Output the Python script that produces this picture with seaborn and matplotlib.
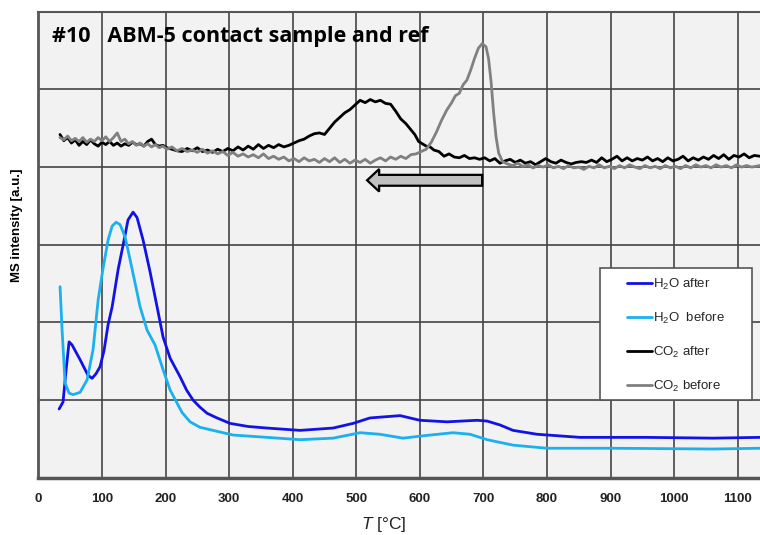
import matplotlib
matplotlib.use("Agg")
import matplotlib.pyplot as plt
import seaborn as sns
import pandas as pd
from matplotlib.patches import Rectangle

# values (T in degC, intensity in a.u.)
h2o_after_t = [32.6, 38.8, 43.6, 48.3, 53, 65.6, 78, 84.4, 90.7, 97, 103.3, 109.6, 116, 125.4,
               134.8, 141, 148.9, 155.2, 164.7, 175.7, 186.7, 196.2, 207.2, 222.9, 233, 243.3,
               254, 265.4, 281, 301.5, 330, 359.7, 411.6, 463.5, 495, 521.5, 537, 569, 600,
               642.8, 690, 705.7, 726, 746.6, 784.4, 852, 957.3, 1061, 1135]
h2o_after_y = [0.885, 0.976, 1.39, 1.75, 1.71, 1.52, 1.32, 1.28, 1.34, 1.43, 1.64, 1.97, 2.2, 2.68,
               3.06, 3.32, 3.42, 3.35, 3.06, 2.65, 2.2, 1.81, 1.54, 1.30, 1.13, 1.00,
               0.91, 0.83, 0.77, 0.70, 0.66, 0.64, 0.61, 0.64, 0.70, 0.77, 0.78, 0.80, 0.74,
               0.72, 0.74, 0.73, 0.68, 0.61, 0.56, 0.52, 0.52, 0.51, 0.52]

h2o_before_t = [34.1, 37.3, 42, 48.3, 54.6, 65.6, 76.6, 86, 94, 101.8, 109.6, 116, 122.2, 128.5,
                136.4, 144.2, 152, 160, 171, 183.5, 196.2, 207.2, 218.2, 226, 238.6, 254, 274.8,
                306.3, 359.7, 411.6, 463.5, 506, 537, 573.6, 605, 652, 679, 705.7, 746.6, 800,
                903.9, 1061, 1135]
h2o_before_y = [2.46, 1.90, 1.22, 1.09, 1.07, 1.10, 1.26, 1.65, 2.29, 2.70, 3.06, 3.24, 3.29, 3.26,
                3.10, 2.81, 2.51, 2.20, 1.90, 1.71, 1.39, 1.13, 0.96, 0.84, 0.72, 0.65, 0.61,
                0.55, 0.52, 0.49, 0.51, 0.58, 0.56, 0.51, 0.54, 0.58, 0.56, 0.49, 0.42, 0.38,
                0.38, 0.37, 0.38]

co2_after_t = [34, 40, 46, 52, 58, 64, 70, 76, 82, 88, 94, 100, 106, 112, 118, 124, 130, 136, 142,
               148, 154, 160, 166, 172, 178, 184, 190, 196, 202, 210, 218, 226, 234, 242, 250,
               258, 266, 274, 282, 290, 298, 306, 314, 322, 330, 338, 346, 354, 362, 370, 378,
               386, 394, 402, 410, 418, 426, 434, 442, 450, 458, 466, 474, 482, 490, 498, 506,
               514, 522, 530, 538, 546, 554, 562, 570, 578, 586, 592, 598, 604, 610, 616, 622,
               630, 638, 646, 654, 662, 670, 678, 686, 694, 702, 710, 718, 726, 734, 742, 750,
               758, 766, 774, 782, 790, 798, 806, 814, 822, 830, 838, 846, 854, 862, 870, 878,
               886, 894, 902, 910, 918, 926, 934, 942, 950, 958, 966, 974, 982, 990, 998, 1006,
               1014, 1022, 1030, 1038, 1046, 1054, 1062, 1070, 1078, 1086, 1094, 1102, 1110,
               1118, 1126, 1135]
co2_after_y = [4.42, 4.34, 4.38, 4.31, 4.35, 4.28, 4.33, 4.29, 4.35, 4.30, 4.27, 4.32, 4.29, 4.33,
               4.28, 4.31, 4.27, 4.30, 4.28, 4.32, 4.29, 4.30, 4.27, 4.33, 4.36, 4.29, 4.27, 4.28,
               4.25, 4.23, 4.21, 4.20, 4.24, 4.21, 4.25, 4.20, 4.22, 4.19, 4.23, 4.20, 4.24, 4.21,
               4.26, 4.22, 4.27, 4.23, 4.29, 4.24, 4.28, 4.25, 4.29, 4.26, 4.28, 4.31, 4.34, 4.36,
               4.40, 4.43, 4.44, 4.42, 4.50, 4.58, 4.64, 4.70, 4.74, 4.80, 4.86, 4.83, 4.87, 4.84,
               4.86, 4.82, 4.81, 4.72, 4.62, 4.56, 4.48, 4.42, 4.33, 4.30, 4.27, 4.26, 4.22, 4.20,
               4.14, 4.17, 4.13, 4.12, 4.15, 4.11, 4.12, 4.10, 4.12, 4.08, 4.11, 4.05, 4.08, 4.10,
               4.06, 4.09, 4.05, 4.07, 4.03, 4.07, 4.11, 4.07, 4.05, 4.09, 4.06, 4.04, 4.06, 4.07,
               4.06, 4.09, 4.06, 4.12, 4.07, 4.10, 4.14, 4.08, 4.12, 4.08, 4.11, 4.09, 4.13, 4.08,
               4.11, 4.07, 4.12, 4.08, 4.10, 4.14, 4.08, 4.12, 4.09, 4.13, 4.10, 4.15, 4.11, 4.16,
               4.10, 4.15, 4.13, 4.17, 4.12, 4.15, 4.14]

co2_before_t = [34, 40, 46, 52, 58, 64, 70, 76, 82, 88, 94, 100, 106, 112, 118, 124, 130, 136, 142,
                148, 154, 160, 166, 172, 178, 184, 190, 196, 202, 210, 218, 226, 234, 242, 250,
                258, 266, 274, 282, 290, 298, 306, 314, 322, 330, 338, 346, 354, 362, 370, 378,
                386, 394, 402, 410, 418, 426, 434, 442, 450, 458, 466, 474, 482, 490, 498, 506,
                514, 522, 530, 538, 546, 554, 562, 570, 578, 586, 594, 602, 610, 618, 626, 634,
                642, 650, 656, 662, 668, 674, 680, 686, 692, 698, 704, 708, 712, 716, 720, 724,
                730, 738, 746, 754, 762, 770, 778, 786, 794, 802, 810, 818, 826, 834, 842, 850,
                858, 866, 874, 882, 890, 898, 906, 914, 922, 930, 938, 946, 954, 962, 970, 978,
                986, 994, 1002, 1010, 1018, 1026, 1034, 1042, 1050, 1058, 1066, 1074, 1082, 1090,
                1098, 1106, 1114, 1122, 1135]
co2_before_y = [4.38, 4.35, 4.40, 4.34, 4.37, 4.33, 4.38, 4.32, 4.36, 4.33, 4.38, 4.34, 4.39, 4.33,
                4.38, 4.44, 4.33, 4.36, 4.30, 4.33, 4.28, 4.31, 4.27, 4.30, 4.26, 4.29, 4.25, 4.27,
                4.23, 4.26, 4.21, 4.24, 4.20, 4.22, 4.19, 4.23, 4.18, 4.21, 4.17, 4.20, 4.15, 4.19,
                4.14, 4.17, 4.13, 4.16, 4.12, 4.17, 4.11, 4.14, 4.10, 4.13, 4.08, 4.11, 4.07, 4.12,
                4.08, 4.10, 4.06, 4.11, 4.07, 4.12, 4.06, 4.10, 4.05, 4.09, 4.06, 4.10, 4.05, 4.09,
                4.12, 4.08, 4.13, 4.10, 4.14, 4.11, 4.16, 4.17, 4.20, 4.23, 4.32, 4.45, 4.60, 4.73,
                4.83, 4.92, 4.95, 5.06, 5.12, 5.25, 5.40, 5.53, 5.59, 5.55, 5.40, 5.10, 4.70, 4.38,
                4.18, 4.07, 4.04, 4.02, 4.05, 4.01, 4.03, 3.99, 4.02, 4.00, 4.03, 3.99, 4.01, 3.98,
                4.02, 3.99, 4.00, 3.97, 4.01, 3.99, 4.03, 3.99, 4.01, 3.98, 4.02, 3.99, 4.03, 4.00,
                3.98, 4.02, 3.99, 4.01, 3.98, 4.02, 3.99, 4.01, 3.98, 4.02, 3.99, 4.03, 4.00, 4.02,
                3.99, 4.03, 4.00, 4.02, 3.99, 4.03, 4.00, 4.02, 4.00, 4.02]

series = ["H$_2$O after", "H$_2$O  before", "CO$_2$ after", "CO$_2$ before"]
colors = ["#1212e6", "#1bb0ee", "#000000", "#808080"]
x_ticks = list(range(0, 1101, 100))

sns.set_style("white")
plt.rcParams["font.family"] = ["Liberation Sans", "DejaVu Sans"]
plt.rcParams["mathtext.fontset"] = "custom"
plt.rcParams["mathtext.rm"] = "Liberation Sans"
plt.rcParams["mathtext.it"] = "Liberation Sans:italic"

fig = plt.figure(figsize=(7.6, 5.35), dpi=100)
ax = fig.add_axes([0.0505, 0.107, 0.9495, 0.871])
ax.set_facecolor("#f2f2f2")

data = [(h2o_after_t, h2o_after_y), (h2o_before_t, h2o_before_y),
        (co2_after_t, co2_after_y), (co2_before_t, co2_before_y)]
for (t, y), name, c in zip(data, series, colors):
    df = pd.DataFrame({"T": t, "I": y})
    sns.lineplot(data=df, x="T", y="I", color=c, lw=2, label=name, sort=False, ax=ax)

# arrow: shift of CO2 peak
ax.arrow(698, 3.83, -181, 0, width=0.14, head_width=0.29, head_length=19,
         length_includes_head=True, fc="#c0c0c0", ec="black", lw=1.6, zorder=5)

ax.set_xlim(0, 1135)
ax.set_ylim(0, 6)
ax.set_xticks(x_ticks)
ax.set_yticks(range(0, 7))
ax.set_yticklabels([])
ax.grid(True, color="#444444", lw=1.2)
ax.set_axisbelow(True)
ax.tick_params(axis="x", direction="out", length=4, width=1, color="#666666",
               labelsize=9.5, pad=7, labelcolor="#222222")
ax.tick_params(axis="y", length=0)
for lab in ax.get_xticklabels():
    lab.set_fontweight("bold")

for s in ["left", "bottom", "top"]:
    ax.spines[s].set_color("#555555")
ax.spines["left"].set_linewidth(2)
ax.spines["bottom"].set_linewidth(2.5)
ax.spines["top"].set_linewidth(1.5)
ax.spines["right"].set_visible(False)

ax.set_xlabel("$\\it{T}$ [°C]", fontsize=12.5, color="#222222")
ax.xaxis.set_label_coords(0.478, -0.08)
ax.set_ylabel("MS intensity [a.u.]", fontsize=9.5, fontweight="bold", color="black")
ax.yaxis.set_label_coords(-0.022, 0.542)

ax.text(0.019, 0.97, "#10   ABM-5 contact sample and ref", transform=ax.transAxes,
        fontsize=15.5, fontweight="bold", family="Open Sans", va="top", ha="left",
        color="black")

# legend box drawn separately, entries placed inside it
ax.add_patch(Rectangle((0.778, 0.167), 0.211, 0.283, transform=ax.transAxes,
                       fc="white", ec="#555555", lw=1.2, zorder=6))
leg = ax.legend(loc="upper left", bbox_to_anchor=(0.816, 0.431), frameon=False,
                fontsize=9.5, handlelength=1.9, handletextpad=0.05, labelspacing=1.42,
                borderpad=0, borderaxespad=0)
leg.set_zorder(7)

fig.savefig("out.png", dpi=100)
